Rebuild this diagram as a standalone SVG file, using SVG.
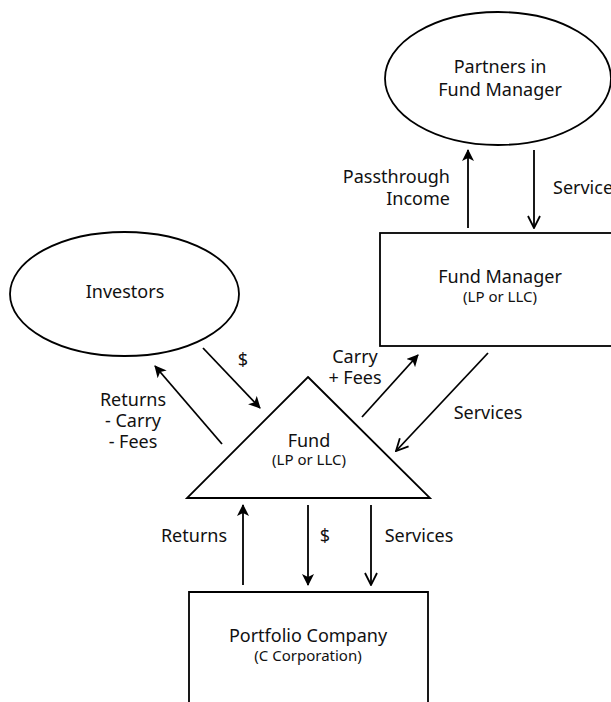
<svg xmlns="http://www.w3.org/2000/svg" width="611" height="702" viewBox="0 0 611 702">
<style>
.shape{fill:#fff;stroke:#000;stroke-width:1.8}
.ln{stroke:#000;stroke-width:1.8;fill:none}
.t{font-family:"Noto Sans",Lato,sans-serif;font-size:18px;fill:#111;text-anchor:middle}
.s{font-family:"Noto Sans",Lato,sans-serif;font-size:15px;fill:#111;text-anchor:middle}
.f{marker-end:url(#filled)}
.o{marker-end:url(#open)}
</style>
<defs>
<marker id="filled" viewBox="0 0 12 12" refX="11" refY="6" markerWidth="12" markerHeight="12" markerUnits="userSpaceOnUse" orient="auto">
<path d="M0,0 L12,6 L0,12 L3,6 Z" fill="#000"/>
</marker>
<marker id="open" viewBox="0 0 14 14" refX="13" refY="7" markerWidth="14" markerHeight="14" markerUnits="userSpaceOnUse" orient="auto">
<path d="M1,1 L13,7 L1,13" fill="none" stroke="#000" stroke-width="1.8"/>
</marker>
</defs>
<rect width="611" height="702" fill="#fff"/>
<g id="partners">
<ellipse class="shape" cx="498" cy="78.5" rx="113" ry="66.5"/>
<text class="t" x="500" y="73">Partners in</text>
<text class="t" x="500" y="96">Fund Manager</text>
</g>
<g id="fund-manager">
<rect class="shape" x="380" y="233" width="240" height="113"/>
<text class="t" x="500" y="283">Fund Manager</text>
<text class="s" x="500" y="302">(LP or LLC)</text>
</g>
<g id="investors">
<ellipse class="shape" cx="124.5" cy="294" rx="114.5" ry="62"/>
<text class="t" x="125" y="298">Investors</text>
</g>
<g id="fund">
<path class="shape" d="M308,377 L430,498 L187,498 Z"/>
<text class="t" x="309" y="447">Fund</text>
<text class="s" x="309" y="465">(LP or LLC)</text>
</g>
<g id="portfolio">
<path class="shape" d="M189,710 L189,592 L428,592 L428,710"/>
<text class="t" x="308" y="642">Portfolio Company</text>
<text class="s" x="308" y="661">(C Corporation)</text>
</g>
<g id="connectors">
<line class="ln f" x1="468" y1="228" x2="468" y2="150"/>
<line class="ln o" x1="534" y1="150" x2="534" y2="228"/>
<line class="ln f" x1="362" y1="417" x2="418" y2="355"/>
<line class="ln o" x1="488" y1="353" x2="396" y2="451"/>
<line class="ln f" x1="203" y1="348" x2="260" y2="408"/>
<line class="ln f" x1="222" y1="444" x2="155" y2="366"/>
<line class="ln f" x1="243" y1="585" x2="243" y2="505"/>
<line class="ln f" x1="308" y1="505" x2="308" y2="585"/>
<line class="ln o" x1="371" y1="505" x2="371" y2="585"/>
</g>
<g id="labels">
<text class="t" x="450" y="183" style="text-anchor:end">Passthrough</text>
<text class="t" x="450" y="205" style="text-anchor:end">Income</text>
<text class="t" x="553" y="194" style="text-anchor:start">Services</text>
<text class="t" x="355" y="363">Carry</text>
<text class="t" x="355" y="384">+ Fees</text>
<text class="t" x="488" y="419">Services</text>
<text class="t" x="243" y="366">$</text>
<text class="t" x="133" y="406">Returns</text>
<text class="t" x="133" y="427">- Carry</text>
<text class="t" x="133" y="448">- Fees</text>
<text class="t" x="194" y="542">Returns</text>
<text class="t" x="325" y="542">$</text>
<text class="t" x="419" y="542">Services</text>
</g>
</svg>
